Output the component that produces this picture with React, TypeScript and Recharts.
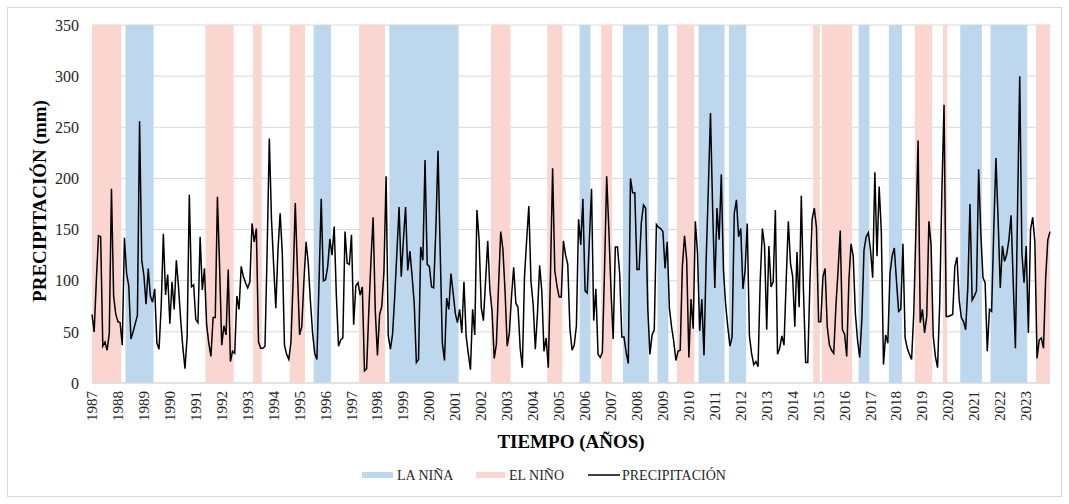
import React from 'react';
import { ComposedChart, Line, XAxis, YAxis, CartesianGrid, ReferenceArea } from 'recharts';

const FONT = "'Liberation Serif', 'Times New Roman', serif";

const YEARS = [
  1987, 1988, 1989, 1990, 1991, 1992, 1993, 1994, 1995, 1996,
  1997, 1998, 1999, 2000, 2001, 2002, 2003, 2004, 2005, 2006,
  2007, 2008, 2009, 2010, 2011, 2012, 2013, 2014, 2015, 2016,
  2017, 2018, 2019, 2020, 2021, 2022, 2023,
];

const Y_TICKS = [0, 50, 100, 150, 200, 250, 300, 350];

// Monthly precipitation (mm), Jan..Dec per row
const PRECIP_1987_1996 = [
  67, 50, 100, 144, 143, 36, 40, 32, 49, 190, 85, 67,
  60, 59, 37, 142, 107, 95, 43, 50, 58, 66, 256, 120,
  105, 77, 112, 85, 79, 92, 39, 33, 75, 146, 86, 106,
  58, 99, 72, 120, 94, 62, 35, 14, 46, 184, 94, 96,
  62, 59, 143, 91, 112, 57, 39, 26, 64, 64, 182, 114,
  37, 56, 47, 111, 21, 31, 29, 85, 72, 114, 104, 98,
  93, 99, 156, 138, 151, 40, 34, 34, 36, 130, 239, 160,
  115, 73, 130, 166, 127, 37, 28, 23, 40, 100, 176, 110,
  47, 55, 100, 138, 117, 80, 49, 29, 23, 100, 180, 100,
  101, 114, 141, 125, 153, 85, 36, 42, 44, 148, 117, 116,
];
const PRECIP_1997_2006 = [
  145, 57, 95, 98, 86, 94, 12, 14, 70, 120, 162, 70,
  27, 67, 75, 109, 202, 46, 33, 48, 85, 128, 172, 104,
  140, 172, 110, 129, 105, 78, 20, 23, 133, 120, 218, 116,
  114, 94, 93, 150, 227, 130, 39, 22, 83, 72, 107, 88,
  68, 59, 72, 49, 99, 46, 29, 13, 72, 47, 169, 140,
  74, 61, 100, 139, 91, 70, 24, 38, 95, 148, 131, 90,
  36, 49, 85, 113, 78, 74, 34, 15, 104, 140, 173, 99,
  77, 33, 68, 115, 90, 31, 44, 15, 105, 210, 110, 95,
  84, 84, 139, 125, 116, 53, 32, 37, 56, 160, 135, 180,
  90, 88, 140, 190, 61, 92, 28, 25, 30, 110, 202, 150,
];
const PRECIP_2007_2016 = [
  90, 43, 133, 133, 107, 45, 45, 30, 19, 200, 186, 186,
  111, 111, 156, 174, 171, 73, 28, 47, 52, 155, 152, 151,
  148, 112, 138, 73, 55, 41, 22, 31, 32, 114, 144, 120,
  25, 82, 53, 158, 127, 51, 82, 27, 120, 190, 264, 170,
  93, 171, 140, 204, 110, 77, 55, 36, 45, 166, 179, 143,
  151, 92, 110, 156, 46, 29, 18, 21, 16, 100, 151, 134,
  52, 134, 94, 99, 169, 28, 34, 46, 37, 100, 158, 117,
  104, 55, 128, 74, 183, 90, 20, 20, 100, 160, 171, 152,
  60, 60, 104, 112, 55, 37, 32, 29, 75, 110, 149, 52,
  48, 26, 100, 136, 124, 68, 42, 25, 62, 130, 143, 147,
];
const PRECIP_2017_2023 = [
  130, 103, 206, 124, 192, 148, 18, 47, 39, 107, 124, 132,
  100, 70, 72, 136, 44, 34, 28, 23, 68, 150, 237, 59,
  72, 49, 65, 158, 135, 46, 26, 15, 78, 186, 272, 65,
  65, 66, 67, 114, 123, 81, 64, 60, 52, 94, 175, 81,
  85, 90, 209, 147, 103, 98, 31, 72, 70, 150, 220, 160,
  93, 134, 119, 126, 140, 164, 98, 34, 170, 300, 127, 98,
  134, 49, 150, 162, 138, 24, 42, 44, 34, 103, 140, 148,
];

// ENSO periods (first month, last month)
const LA_NINA = [
  ['1988-05', '1989-05'], ['1995-08', '1996-03'], ['1998-07', '2001-02'],
  ['2005-11', '2006-03'], ['2007-07', '2008-06'], ['2008-11', '2009-03'],
  ['2010-06', '2011-05'], ['2011-08', '2012-03'], ['2016-08', '2016-12'],
  ['2017-10', '2018-03'], ['2020-07', '2021-04'], ['2021-09', '2023-01'],
];
const EL_NINO = [
  ['1987-01', '1988-02'], ['1991-06', '1992-06'], ['1993-04', '1993-07'],
  ['1994-09', '1995-03'], ['1997-05', '1998-04'], ['2002-06', '2003-02'],
  ['2004-08', '2005-02'], ['2006-09', '2007-01'], ['2009-08', '2010-03'],
  ['2014-11', '2015-01'], ['2015-03', '2016-04'], ['2018-10', '2019-05'],
  ['2019-11', '2019-12'], ['2023-06', '2023-12'],
];

const BLUE = '#BDD7EE';
const PINK = '#FBD5D0';

const ALL_PRECIP = [...PRECIP_1987_1996, ...PRECIP_1997_2006, ...PRECIP_2007_2016, ...PRECIP_2017_2023];
const data = ALL_PRECIP.map((v, i) => ({ t: i, precip: v }));
const LAST = ALL_PRECIP.length - 1;

const monthIndex = (s: string) => {
  const [y, m] = s.split('-').map(Number);
  return (y - YEARS[0]) * 12 + (m - 1);
};

const YearTick = (props: any) => {
  const { x, y, payload } = props;
  const year = YEARS[Math.round(payload.value / 12)];
  return (
    <text
      x={x}
      y={y}
      transform={`rotate(-90, ${x}, ${y})`}
      textAnchor="end"
      dominantBaseline="central"
      fontSize={15}
      fill="#262626"
      fontFamily={FONT}
    >
      {year}
    </text>
  );
};

const bands = (periods: string[][], color: string, key: string) =>
  periods.map(([a, b], i) => (
    <ReferenceArea
      key={`${key}-${i}`}
      x1={Math.max(0, monthIndex(a) - 0.5)}
      x2={Math.min(LAST, monthIndex(b) + 0.5)}
      y1={0}
      y2={350}
      fill={color}
      fillOpacity={1}
      stroke="none"
    />
  ));

export default function App() {
  return (
    <div style={{ position: 'absolute', left: 0, top: 0, width: 1069, height: 504, background: '#fff' }}>
      <svg width={1069} height={504} style={{ position: 'absolute', left: 0, top: 0 }}>
        <rect x={7.5} y={7.5} width={1054} height={489} fill="#fff" stroke="#d9d9d9" />
      </svg>
      <div style={{ position: 'absolute', left: 0, top: 0 }}>
        <ComposedChart width={1069} height={504} data={data} margin={{ top: 25, right: 19, bottom: 0, left: 0 }}>
          <CartesianGrid vertical={false} stroke="#d9d9d9" />
          {bands(LA_NINA, BLUE, 'ln')}
          {bands(EL_NINO, PINK, 'en')}
          <XAxis
            dataKey="t"
            type="number"
            domain={[0, LAST]}
            ticks={YEARS.map((_, i) => i * 12)}
            interval={0}
            tickLine={false}
            axisLine={{ stroke: '#d9d9d9' }}
            tick={<YearTick />}
            height={121}
          />
          <YAxis
            type="number"
            domain={[0, 350]}
            ticks={Y_TICKS}
            width={92}
            axisLine={false}
            tickLine={false}
            tickMargin={7}
            tick={{ fontSize: 16, fill: '#262626', fontFamily: FONT }}
          />
          <Line
            type="linear"
            dataKey="precip"
            stroke="#000"
            strokeWidth={1.5}
            dot={false}
            isAnimationActive={false}
          />
        </ComposedChart>
      </div>
      <svg width={1069} height={504} style={{ position: 'absolute', left: 0, top: 0, pointerEvents: 'none' }}>
        <text
          transform="translate(39,201) rotate(-90)"
          textAnchor="middle"
          dominantBaseline="central"
          fontWeight="bold"
          fontSize={19}
          fontFamily={FONT}
          fill="#000"
        >
          PRECIPITACIÓN (mm)
        </text>
        <text x={571} y={448} textAnchor="middle" fontWeight="bold" fontSize={19} fontFamily={FONT} fill="#000">
          TIEMPO (AÑOS)
        </text>
        <rect x={362} y={472} width={31} height={6} fill={BLUE} />
        <text x={397} y={480} fontSize={14} fontFamily={FONT} fill="#262626">LA NIÑA</text>
        <rect x={476} y={472} width={29} height={6} fill={PINK} />
        <text x={509} y={480} fontSize={14} fontFamily={FONT} fill="#262626">EL NIÑO</text>
        <line x1={588} x2={620} y1={475} y2={475} stroke="#000" strokeWidth={1.5} />
        <text x={622} y={480} fontSize={14} fontFamily={FONT} fill="#262626">PRECIPITACIÓN</text>
      </svg>
    </div>
  );
}
